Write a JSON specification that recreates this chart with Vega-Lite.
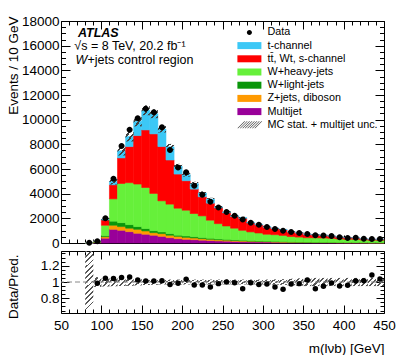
{
  "$schema": "https://vega.github.io/schema/vega-lite/v6.json",
  "padding": {"top": 13, "left": 5, "right": 5, "bottom": 0},
  "background": "white",
  "config": {
    "font": "Liberation Sans",
    "view": {"stroke": "black", "strokeWidth": 1},
    "axis": {
      "labelFont": "Liberation Sans", "labelFontSize": 13.5, "labelColor": "black",
      "titleFont": "Liberation Sans", "titleFontSize": 13.5, "titleFontWeight": "normal", "titleColor": "black",
      "tickColor": "black", "tickWidth": 1, "grid": false, "domain": false,
      "labelOverlap": false, "labelFlush": false, "labelBound": false
    },
    "legend": {"labelFont": "Liberation Sans"}
  },
  "bounds": "flush",
  "spacing": 8,
  "data": {"values": [
    {"lo": 80, "hi": 90, "data": 20, "ratio": null, "unc": 1, "mj": 5, "zj": 2, "wl": 0, "wh": 0, "tt": 0, "tch": 0},
    {"lo": 90, "hi": 100, "data": 150, "ratio": 0.984, "unc": 0.06, "mj": 60, "zj": 15, "wl": 10, "wh": 50, "tt": 12, "tch": 5},
    {"lo": 100, "hi": 110, "data": 2010, "ratio": 1.046, "unc": 0.055, "mj": 390, "zj": 120, "wl": 80, "wh": 850, "tt": 430, "tch": 50},
    {"lo": 110, "hi": 120, "data": 5210, "ratio": 1.042, "unc": 0.052, "mj": 1110, "zj": 330, "wl": 330, "wh": 1810, "tt": 1140, "tch": 280},
    {"lo": 120, "hi": 130, "data": 7870, "ratio": 1.054, "unc": 0.05, "mj": 1030, "zj": 300, "wl": 320, "wh": 3180, "tt": 2070, "tch": 570},
    {"lo": 130, "hi": 140, "data": 9180, "ratio": 1.062, "unc": 0.047, "mj": 920, "zj": 280, "wl": 290, "wh": 3400, "tt": 2930, "tch": 820},
    {"lo": 140, "hi": 150, "data": 10120, "ratio": 1.025, "unc": 0.042, "mj": 790, "zj": 320, "wl": 220, "wh": 3450, "tt": 3930, "tch": 1160},
    {"lo": 150, "hi": 160, "data": 10890, "ratio": 1.012, "unc": 0.037, "mj": 710, "zj": 270, "wl": 190, "wh": 3330, "tt": 4670, "tch": 1590},
    {"lo": 160, "hi": 170, "data": 10610, "ratio": 1.012, "unc": 0.034, "mj": 630, "zj": 210, "wl": 160, "wh": 3020, "tt": 4830, "tch": 1630},
    {"lo": 170, "hi": 180, "data": 9390, "ratio": 1.016, "unc": 0.03, "mj": 540, "zj": 220, "wl": 140, "wh": 2520, "tt": 4400, "tch": 1420},
    {"lo": 180, "hi": 190, "data": 7550, "ratio": 0.968, "unc": 0.03, "mj": 430, "zj": 200, "wl": 130, "wh": 2390, "tt": 3580, "tch": 1070},
    {"lo": 190, "hi": 200, "data": 6130, "ratio": 0.984, "unc": 0.03, "mj": 350, "zj": 190, "wl": 90, "wh": 2190, "tt": 2770, "tch": 640},
    {"lo": 200, "hi": 210, "data": 5730, "ratio": 1.033, "unc": 0.03, "mj": 300, "zj": 160, "wl": 110, "wh": 2090, "tt": 2390, "tch": 500},
    {"lo": 210, "hi": 220, "data": 4640, "ratio": 0.963, "unc": 0.03, "mj": 270, "zj": 140, "wl": 100, "wh": 1880, "tt": 1980, "tch": 450},
    {"lo": 220, "hi": 230, "data": 3910, "ratio": 0.963, "unc": 0.03, "mj": 230, "zj": 120, "wl": 90, "wh": 1760, "tt": 1550, "tch": 310},
    {"lo": 230, "hi": 240, "data": 3340, "ratio": 0.938, "unc": 0.03, "mj": 200, "zj": 100, "wl": 80, "wh": 1470, "tt": 1380, "tch": 330},
    {"lo": 240, "hi": 250, "data": 2880, "ratio": 0.98, "unc": 0.03, "mj": 170, "zj": 90, "wl": 70, "wh": 1240, "tt": 1280, "tch": 90},
    {"lo": 250, "hi": 260, "data": 2520, "ratio": 1.0, "unc": 0.03, "mj": 150, "zj": 80, "wl": 60, "wh": 1090, "tt": 1070, "tch": 70},
    {"lo": 260, "hi": 270, "data": 2200, "ratio": 0.99, "unc": 0.03, "mj": 130, "zj": 70, "wl": 50, "wh": 950, "tt": 950, "tch": 70},
    {"lo": 270, "hi": 280, "data": 1900, "ratio": 0.918, "unc": 0.03, "mj": 110, "zj": 60, "wl": 50, "wh": 810, "tt": 970, "tch": 70},
    {"lo": 280, "hi": 290, "data": 1650, "ratio": 0.99, "unc": 0.03, "mj": 100, "zj": 50, "wl": 40, "wh": 710, "tt": 720, "tch": 50},
    {"lo": 290, "hi": 300, "data": 1470, "ratio": 0.97, "unc": 0.03, "mj": 90, "zj": 45, "wl": 35, "wh": 640, "tt": 660, "tch": 45},
    {"lo": 300, "hi": 310, "data": 1300, "ratio": 0.975, "unc": 0.03, "mj": 80, "zj": 40, "wl": 30, "wh": 560, "tt": 580, "tch": 40},
    {"lo": 310, "hi": 320, "data": 1140, "ratio": 0.94, "unc": 0.032, "mj": 70, "zj": 35, "wl": 30, "wh": 540, "tt": 500, "tch": 35},
    {"lo": 320, "hi": 330, "data": 1000, "ratio": 0.91, "unc": 0.035, "mj": 60, "zj": 30, "wl": 25, "wh": 500, "tt": 455, "tch": 30},
    {"lo": 330, "hi": 340, "data": 900, "ratio": 0.975, "unc": 0.04, "mj": 50, "zj": 25, "wl": 20, "wh": 430, "tt": 375, "tch": 20},
    {"lo": 340, "hi": 350, "data": 810, "ratio": 0.98, "unc": 0.045, "mj": 45, "zj": 22, "wl": 18, "wh": 395, "tt": 330, "tch": 20},
    {"lo": 350, "hi": 360, "data": 730, "ratio": 1.025, "unc": 0.05, "mj": 40, "zj": 20, "wl": 16, "wh": 350, "tt": 270, "tch": 14},
    {"lo": 360, "hi": 370, "data": 620, "ratio": 0.918, "unc": 0.05, "mj": 35, "zj": 18, "wl": 15, "wh": 352, "tt": 240, "tch": 15},
    {"lo": 370, "hi": 380, "data": 600, "ratio": 0.947, "unc": 0.05, "mj": 32, "zj": 16, "wl": 14, "wh": 341, "tt": 215, "tch": 12},
    {"lo": 380, "hi": 390, "data": 570, "ratio": 0.988, "unc": 0.05, "mj": 30, "zj": 15, "wl": 13, "wh": 322, "tt": 183, "tch": 12},
    {"lo": 390, "hi": 400, "data": 460, "ratio": 0.95, "unc": 0.05, "mj": 25, "zj": 12, "wl": 11, "wh": 282, "tt": 145, "tch": 10},
    {"lo": 400, "hi": 410, "data": 410, "ratio": 0.96, "unc": 0.05, "mj": 22, "zj": 11, "wl": 10, "wh": 257, "tt": 122, "tch": 8},
    {"lo": 410, "hi": 420, "data": 430, "ratio": 1.012, "unc": 0.05, "mj": 22, "zj": 11, "wl": 10, "wh": 259, "tt": 115, "tch": 8},
    {"lo": 420, "hi": 430, "data": 350, "ratio": 1.016, "unc": 0.05, "mj": 18, "zj": 9, "wl": 8, "wh": 213, "tt": 90, "tch": 7},
    {"lo": 430, "hi": 440, "data": 330, "ratio": 1.086, "unc": 0.05, "mj": 16, "zj": 8, "wl": 7, "wh": 192, "tt": 77, "tch": 5},
    {"lo": 440, "hi": 450, "data": 320, "ratio": 1.037, "unc": 0.05, "mj": 16, "zj": 8, "wl": 7, "wh": 198, "tt": 76, "tch": 5}
  ]},
  "vconcat": [
    {
      "width": 323,
      "height": 222,
      "resolve": {"axis": {"x": "independent", "y": "independent"}},
      "layer": [
        {
          "transform": [
            {"fold": ["mj", "zj", "wl", "wh", "tt", "tch"], "as": ["sample", "value"]},
            {"calculate": "indexof(['mj','zj','wl','wh','tt','tch'], datum.sample)", "as": "k"},
            {"stack": "value", "groupby": ["lo"], "sort": [{"field": "k", "order": "ascending"}], "as": ["y0", "y1"]}
          ],
          "mark": {"type": "rect", "strokeWidth": 0.6},
          "encoding": {
            "x": {"field": "lo", "type": "quantitative", "scale": {"domain": [50, 450], "nice": false, "zero": false},
              "axis": {"orient": "bottom", "title": null, "labels": false,
                "values": [50,60,70,80,90,100,110,120,130,140,150,160,170,180,190,200,210,220,230,240,250,260,270,280,290,300,310,320,330,340,350,360,370,380,390,400,410,420,430,440,450],
                "tickSize": {"condition": {"test": "datum.value % 50 === 0", "value": -8}, "value": -4}}},
            "x2": {"field": "hi"},
            "y": {"field": "y0", "type": "quantitative", "scale": {"domain": [0, 18000], "nice": false},
              "axis": {"orient": "left", "title": "Events / 10 GeV", "format": "d",
                "values": [0,500,1000,1500,2000,2500,3000,3500,4000,4500,5000,5500,6000,6500,7000,7500,8000,8500,9000,9500,10000,10500,11000,11500,12000,12500,13000,13500,14000,14500,15000,15500,16000,16500,17000,17500,18000],
                "labelExpr": "datum.value % 2000 === 0 ? datum.label : ''",
                "tickSize": {"condition": {"test": "datum.value % 2000 === 0", "value": -9}, "value": -4.5},
                "labelPadding": 11,
                "titleAngle": -90, "titleAlign": "right", "titleBaseline": "middle", "titleX": -48, "titleY": -5}},
            "y2": {"field": "y1"},
            "color": {"field": "sample", "type": "nominal",
              "scale": {"domain": ["data", "tch", "tt", "wh", "wl", "zj", "mj", "unc"],
                "range": ["#000000", "#3cc8f6", "#ff0000", "#66f03a", "#0a960a", "#ff9a00", "#990099", "#333333"]},
              "legend": {"orient": "none", "legendX": 183, "legendY": 6, "padding": 0, "title": null,
                "labelFontSize": 10.8, "labelOffset": 12.7, "rowPadding": 1.2, "symbolSize": 100, "symbolStrokeWidth": 0,
                "labelExpr": "datum.value == 'data' ? 'Data' : datum.value == 'tch' ? 't-channel' : datum.value == 'tt' ? 'tt̄, Wt, s-channel' : datum.value == 'wh' ? 'W+heavy-jets' : datum.value == 'wl' ? 'W+light-jets' : datum.value == 'zj' ? 'Z+jets, diboson' : datum.value == 'mj' ? 'Multijet' : 'MC stat. + multijet unc.'"}},
            "stroke": {"field": "sample", "type": "nominal",
              "scale": {"domain": ["data", "tch", "tt", "wh", "wl", "zj", "mj", "unc"],
                "range": ["#000000", "#3cc8f6", "#ff0000", "#66f03a", "#0a960a", "#ff9a00", "#990099", "#333333"]},
              "legend": null}
          }
        },
        {
          "transform": [
            {"filter": "datum.lo >= 90"},
            {"calculate": "datum.mj + datum.zj + datum.wl + datum.wh + datum.tt + datum.tch", "as": "mc"},
            {"calculate": "datum.mc * (1 - datum.unc)", "as": "blo"},
            {"calculate": "datum.mc * (1 + datum.unc)", "as": "bhi"}
          ],
          "mark": {"type": "rect", "strokeWidth": 0,
            "fill": {"gradient": "linear", "x1": 0, "y1": 0, "x2": 1, "y2": 1, "stops": [
              {"offset": 0, "color": "rgba(255,255,255,0)"}, {"offset": 0.2, "color": "rgba(255,255,255,0)"},
              {"offset": 0.2, "color": "#444444"}, {"offset": 0.333, "color": "#444444"},
              {"offset": 0.333, "color": "rgba(255,255,255,0)"}, {"offset": 0.533, "color": "rgba(255,255,255,0)"},
              {"offset": 0.533, "color": "#444444"}, {"offset": 0.667, "color": "#444444"},
              {"offset": 0.667, "color": "rgba(255,255,255,0)"}, {"offset": 0.867, "color": "rgba(255,255,255,0)"},
              {"offset": 0.867, "color": "#444444"}, {"offset": 1, "color": "#444444"}]}},
          "encoding": {
            "x": {"field": "lo", "type": "quantitative",
              "axis": {"orient": "top", "title": null, "labels": false,
                "values": [50,60,70,80,90,100,110,120,130,140,150,160,170,180,190,200,210,220,230,240,250,260,270,280,290,300,310,320,330,340,350,360,370,380,390,400,410,420,430,440,450],
                "tickSize": {"condition": {"test": "datum.value % 50 === 0", "value": -8}, "value": -4}}},
            "x2": {"field": "hi"},
            "y": {"field": "blo", "type": "quantitative",
              "axis": {"orient": "right", "title": null, "labels": false,
                "values": [0,500,1000,1500,2000,2500,3000,3500,4000,4500,5000,5500,6000,6500,7000,7500,8000,8500,9000,9500,10000,10500,11000,11500,12000,12500,13000,13500,14000,14500,15000,15500,16000,16500,17000,17500,18000],
                "tickSize": {"condition": {"test": "datum.value % 2000 === 0", "value": -9}, "value": -4.5}}},
            "y2": {"field": "bhi"}
          }
        },
        {
          "transform": [{"calculate": "datum.lo + 5", "as": "mid"}],
          "mark": {"type": "point", "filled": true, "opacity": 1, "size": 144, "strokeWidth": 0},
          "encoding": {
            "x": {"field": "mid", "type": "quantitative", "axis": null},
            "y": {"field": "data", "type": "quantitative", "axis": null},
            "color": {"datum": "data"},
            "shape": {"datum": "data",
              "scale": {"domain": ["data", "tch", "tt", "wh", "wl", "zj", "mj", "unc"],
                "range": [
                  "M0.5,0A0.5,0.5,0,1,1,-0.5,0A0.5,0.5,0,1,1,0.5,0Z",
                  "M-2.4,-0.7H2.4V0.7H-2.4Z", "M-2.4,-0.7H2.4V0.7H-2.4Z", "M-2.4,-0.7H2.4V0.7H-2.4Z",
                  "M-2.4,-0.7H2.4V0.7H-2.4Z", "M-2.4,-0.7H2.4V0.7H-2.4Z", "M-2.4,-0.7H2.4V0.7H-2.4Z",
                  "M-2.4,0.7L-1,-0.7L-0.84,-0.7L-2.24,0.7ZM-1.914,0.7L-0.514,-0.7L-0.354,-0.7L-1.754,0.7ZM-1.429,0.7L-0.029,-0.7L0.131,-0.7L-1.269,0.7ZM-0.943,0.7L0.457,-0.7L0.617,-0.7L-0.783,0.7ZM-0.457,0.7L0.943,-0.7L1.103,-0.7L-0.297,0.7ZM0.029,0.7L1.429,-0.7L1.589,-0.7L0.189,0.7ZM0.514,0.7L1.914,-0.7L2.074,-0.7L0.674,0.7ZM1,0.7L2.4,-0.7L2.56,-0.7L1.16,0.7Z"
                ]},
              "legend": {"orient": "none", "legendX": 183, "legendY": 6, "padding": 0, "title": null,
                "labelFontSize": 10.8, "labelOffset": 12.7, "rowPadding": 1.2, "symbolSize": 100, "symbolStrokeWidth": 0}}
          }
        },
        {
          "data": {"values": [{}]},
          "mark": {"type": "text", "text": "ATLAS", "font": "Liberation Sans", "fontSize": 12.5, "fontStyle": "italic", "fontWeight": "bold", "align": "left", "baseline": "middle"},
          "encoding": {"x": {"datum": 71, "type": "quantitative", "axis": null}, "y": {"datum": 17060, "type": "quantitative", "axis": null}}
        },
        {
          "data": {"values": [{}]},
          "mark": {"type": "text", "text": "√s = 8 TeV, 20.2 fb⁻¹", "font": "Liberation Sans", "fontSize": 12.5, "align": "left", "baseline": "middle"},
          "encoding": {"x": {"datum": 66.5, "type": "quantitative", "axis": null}, "y": {"datum": 16000, "type": "quantitative", "axis": null}}
        },
        {
          "data": {"values": [{}]},
          "mark": {"type": "text", "text": "W", "font": "Liberation Sans", "fontSize": 12.5, "fontStyle": "italic", "align": "left", "baseline": "middle"},
          "encoding": {"x": {"datum": 68, "type": "quantitative", "axis": null}, "y": {"datum": 14820, "type": "quantitative", "axis": null}}
        },
        {
          "data": {"values": [{}]},
          "mark": {"type": "text", "text": "+jets control region", "font": "Liberation Sans", "fontSize": 12.5, "align": "left", "baseline": "middle", "dx": 12},
          "encoding": {"x": {"datum": 68, "type": "quantitative", "axis": null}, "y": {"datum": 14820, "type": "quantitative", "axis": null}}
        }
      ]
    },
    {
      "width": 323,
      "height": 62,
      "resolve": {"axis": {"x": "independent", "y": "independent"}},
      "layer": [
        {
          "transform": [
            {"filter": "datum.lo >= 90"},
            {"calculate": "1 - datum.unc", "as": "rlo"},
            {"calculate": "1 + datum.unc", "as": "rhi"}
          ],
          "mark": {"type": "rect", "strokeWidth": 0,
            "fill": {"gradient": "linear", "x1": 0, "y1": 0, "x2": 1, "y2": 1, "stops": [
              {"offset": 0, "color": "rgba(255,255,255,0)"}, {"offset": 0.2, "color": "rgba(255,255,255,0)"},
              {"offset": 0.2, "color": "#555555"}, {"offset": 0.333, "color": "#555555"},
              {"offset": 0.333, "color": "rgba(255,255,255,0)"}, {"offset": 0.533, "color": "rgba(255,255,255,0)"},
              {"offset": 0.533, "color": "#555555"}, {"offset": 0.667, "color": "#555555"},
              {"offset": 0.667, "color": "rgba(255,255,255,0)"}, {"offset": 0.867, "color": "rgba(255,255,255,0)"},
              {"offset": 0.867, "color": "#555555"}, {"offset": 1, "color": "#555555"}]}},
          "encoding": {
            "x": {"field": "lo", "type": "quantitative", "scale": {"domain": [50, 450], "nice": false, "zero": false},
              "axis": {"orient": "bottom", "title": "m(lνb) [GeV]",
                "values": [50,60,70,80,90,100,110,120,130,140,150,160,170,180,190,200,210,220,230,240,250,260,270,280,290,300,310,320,330,340,350,360,370,380,390,400,410,420,430,440,450],
                "labelExpr": "datum.value % 50 === 0 ? datum.label : ''",
                "tickSize": {"condition": {"test": "datum.value % 50 === 0", "value": -8}, "value": -4},
                "labelPadding": 13,
                "titleAlign": "right", "titleAnchor": "end", "titleBaseline": "middle", "titleX": 323, "titleY": 35}},
            "x2": {"field": "hi"},
            "y": {"field": "rlo", "type": "quantitative", "scale": {"domain": [0.62, 1.38], "nice": false, "zero": false},
              "axis": {"orient": "left", "title": "Data/Pred.",
                "values": [0.65,0.7,0.75,0.8,0.85,0.9,0.95,1,1.05,1.1,1.15,1.2,1.25,1.3,1.35],
                "labelExpr": "datum.value === 0.8 ? '0.8' : datum.value === 1 ? '1' : datum.value === 1.2 ? '1.2' : ''",
                "tickSize": {"condition": {"test": "datum.value === 0.8 || datum.value === 1 || datum.value === 1.2", "value": -8}, "value": -4},
                "labelPadding": 10,
                "titleAngle": -90, "titleAlign": "right", "titleBaseline": "middle", "titleX": -48, "titleY": 3}},
            "y2": {"field": "rhi"}
          }
        },
        {
          "transform": [{"filter": "datum.lo == 80"}],
          "mark": {"type": "rect", "strokeWidth": 0,
            "fill": {"gradient": "linear", "x1": 0, "y1": 0, "x2": 0.129, "y2": 1, "stops": [
              {"offset": 0, "color": "#555555"}, {"offset": 0.03, "color": "#555555"}, {"offset": 0.03, "color": "rgba(255,255,255,0)"},
              {"offset": 0.083, "color": "rgba(255,255,255,0)"}, {"offset": 0.083, "color": "#555555"}, {"offset": 0.113, "color": "#555555"}, {"offset": 0.113, "color": "rgba(255,255,255,0)"},
              {"offset": 0.167, "color": "rgba(255,255,255,0)"}, {"offset": 0.167, "color": "#555555"}, {"offset": 0.197, "color": "#555555"}, {"offset": 0.197, "color": "rgba(255,255,255,0)"},
              {"offset": 0.25, "color": "rgba(255,255,255,0)"}, {"offset": 0.25, "color": "#555555"}, {"offset": 0.28, "color": "#555555"}, {"offset": 0.28, "color": "rgba(255,255,255,0)"},
              {"offset": 0.333, "color": "rgba(255,255,255,0)"}, {"offset": 0.333, "color": "#555555"}, {"offset": 0.363, "color": "#555555"}, {"offset": 0.363, "color": "rgba(255,255,255,0)"},
              {"offset": 0.417, "color": "rgba(255,255,255,0)"}, {"offset": 0.417, "color": "#555555"}, {"offset": 0.447, "color": "#555555"}, {"offset": 0.447, "color": "rgba(255,255,255,0)"},
              {"offset": 0.5, "color": "rgba(255,255,255,0)"}, {"offset": 0.5, "color": "#555555"}, {"offset": 0.53, "color": "#555555"}, {"offset": 0.53, "color": "rgba(255,255,255,0)"},
              {"offset": 0.583, "color": "rgba(255,255,255,0)"}, {"offset": 0.583, "color": "#555555"}, {"offset": 0.613, "color": "#555555"}, {"offset": 0.613, "color": "rgba(255,255,255,0)"},
              {"offset": 0.667, "color": "rgba(255,255,255,0)"}, {"offset": 0.667, "color": "#555555"}, {"offset": 0.697, "color": "#555555"}, {"offset": 0.697, "color": "rgba(255,255,255,0)"},
              {"offset": 0.75, "color": "rgba(255,255,255,0)"}, {"offset": 0.75, "color": "#555555"}, {"offset": 0.78, "color": "#555555"}, {"offset": 0.78, "color": "rgba(255,255,255,0)"},
              {"offset": 0.833, "color": "rgba(255,255,255,0)"}, {"offset": 0.833, "color": "#555555"}, {"offset": 0.863, "color": "#555555"}, {"offset": 0.863, "color": "rgba(255,255,255,0)"},
              {"offset": 0.917, "color": "rgba(255,255,255,0)"}, {"offset": 0.917, "color": "#555555"}, {"offset": 0.947, "color": "#555555"}, {"offset": 0.947, "color": "rgba(255,255,255,0)"},
              {"offset": 1, "color": "rgba(255,255,255,0)"}]}},
          "encoding": {
            "x": {"field": "lo", "type": "quantitative", "axis": null},
            "x2": {"field": "hi"},
            "y": {"datum": 0.62, "type": "quantitative", "axis": null},
            "y2": {"datum": 1.38}
          }
        },
        {
          "data": {"values": [{}]},
          "mark": {"type": "rule", "color": "#888888", "strokeWidth": 1, "strokeDash": [5, 3]},
          "encoding": {"y": {"datum": 1, "type": "quantitative", "axis": null}}
        },
        {
          "transform": [{"filter": "isValid(datum.ratio)"}, {"calculate": "datum.lo + 5", "as": "mid"}],
          "mark": {"type": "circle", "color": "black", "opacity": 1, "size": 30},
          "encoding": {
            "x": {"field": "mid", "type": "quantitative",
              "axis": {"orient": "top", "title": null, "labels": false,
                "values": [50,60,70,80,90,100,110,120,130,140,150,160,170,180,190,200,210,220,230,240,250,260,270,280,290,300,310,320,330,340,350,360,370,380,390,400,410,420,430,440,450],
                "tickSize": {"condition": {"test": "datum.value % 50 === 0", "value": -8}, "value": -4}}},
            "y": {"field": "ratio", "type": "quantitative",
              "axis": {"orient": "right", "title": null, "labels": false,
                "values": [0.65,0.7,0.75,0.8,0.85,0.9,0.95,1,1.05,1.1,1.15,1.2,1.25,1.3,1.35],
                "tickSize": {"condition": {"test": "datum.value === 0.8 || datum.value === 1 || datum.value === 1.2", "value": -8}, "value": -4}}}
          }
        }
      ]
    }
  ]
}
